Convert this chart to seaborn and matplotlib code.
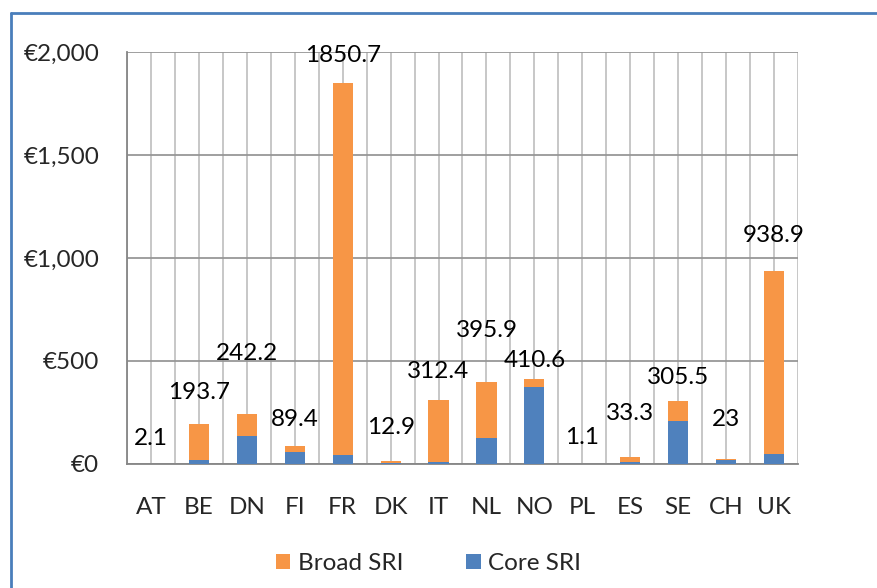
import matplotlib
matplotlib.use("Agg")
import matplotlib.pyplot as plt
import seaborn as sns
import numpy as np
import pandas as pd
from matplotlib.patches import Patch
from matplotlib.lines import Line2D
from matplotlib.ticker import FuncFormatter

# Dati (miliardi di euro)
countries = ["AT", "BE", "DN", "FI", "FR", "DK", "IT", "NL", "NO", "PL", "ES", "SE", "CH", "UK"]
total_sri = [2.1, 193.7, 242.2, 89.4, 1850.7, 12.9, 312.4, 395.9, 410.6, 1.1, 33.3, 305.5, 23, 938.9]
core_sri = [0.8, 19, 137, 60, 45, 5, 8, 124, 372, 0.4, 8, 210, 21, 47]
label_text = ["2.1", "193.7", "242.2", "89.4", "1850.7", "12.9", "312.4",
              "395.9", "410.6", "1.1", "33.3", "305.5", "23", "938.9"]
# posizione verticale delle etichette (spostate a mano nell'originale)
label_pos = [126, 345, 534, 218, 1985, 175, 447, 650, 500, 131, 243, 422, 214, 1107]

ORANGE = "#F79646"
BLUE = "#4F81BD"
FS = 17.5

sns.set_style("white")
plt.rcParams["font.family"] = ["Lato", "DejaVu Sans"]

df = pd.DataFrame({"country": countries, "total": total_sri, "core": core_sri})

fig = plt.figure(figsize=(8.78, 5.88), dpi=100)
ax = fig.add_axes([0.1446, 0.2109, 0.9089 - 0.1446, 0.9116 - 0.2109])

# Barre impilate: totale (arancio) sotto, core (blu) sopra
sns.barplot(data=df, x="country", y="total", order=countries, color=ORANGE,
            width=0.42, saturation=1, edgecolor="none", ax=ax, zorder=3)
sns.barplot(data=df, x="country", y="core", order=countries, color=BLUE,
            width=0.42, saturation=1, edgecolor="none", ax=ax, zorder=4)

# Etichette dei valori
for i, (txt, yp) in enumerate(zip(label_text, label_pos)):
    ax.text(i, yp, txt, ha="center", va="center", fontsize=FS, color="black", zorder=5)

ax.set_xlim(-0.5, len(countries) - 0.5)
ax.set_ylim(0, 2000)
ax.set_yticks([0, 500, 1000, 1500, 2000])
ax.yaxis.set_major_formatter(FuncFormatter(lambda v, p: f"€{v:,.0f}"))
ax.set_xlabel("")
ax.set_ylabel("")

# Griglia: orizzontale ogni 500, verticale ogni mezza categoria
ax.set_xticks(np.arange(len(countries)))
ax.set_xticklabels(countries)
ax.set_xticks(np.arange(-0.5, len(countries), 1.0), minor=True)
ax.grid(True, which="major", axis="y", color="#979797", linewidth=1.3, zorder=0)
ax.grid(True, which="major", axis="x", color="#BEBEBE", linewidth=1.2, zorder=0)
ax.grid(True, which="minor", axis="x", color="#BEBEBE", linewidth=1.2, zorder=0)
ax.set_axisbelow(True)

ax.tick_params(axis="x", which="major", length=0, pad=24, labelsize=FS)
ax.tick_params(axis="x", which="minor", length=8, width=1.2, color="#868686", direction="out")
ax.tick_params(axis="y", which="major", length=8, width=1.2, color="#868686",
               direction="out", pad=12, labelsize=FS)

for side in ["top", "right"]:
    ax.spines[side].set_visible(False)
for side in ["left", "bottom"]:
    ax.spines[side].set_color("#868686")
    ax.spines[side].set_linewidth(1.3)

# Legenda in basso
handles = [Patch(facecolor=ORANGE, edgecolor="none", label="Broad SRI"),
           Patch(facecolor=BLUE, edgecolor="none", label="Core SRI")]
fig.legend(handles=handles, loc="center", bbox_to_anchor=(0.488, 0.042), ncol=2,
           frameon=False, fontsize=FS, handlelength=0.6, handleheight=0.6,
           handletextpad=0.3, columnspacing=2.6)

# Bordo blu del riquadro del grafico (solo sopra e a sinistra visibili)
fig.add_artist(Line2D([11 / 878, 11 / 878], [0, 1 - 13 / 588], transform=fig.transFigure,
                      color="#4A7EBB", linewidth=2))
fig.add_artist(Line2D([11 / 878, 1], [1 - 13 / 588, 1 - 13 / 588], transform=fig.transFigure,
                      color="#4A7EBB", linewidth=2))

fig.savefig("out.png", dpi=100)
